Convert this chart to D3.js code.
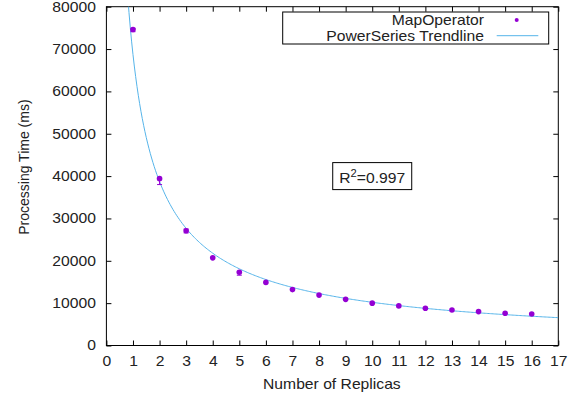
<!DOCTYPE html>
<html>
<head>
<meta charset="utf-8">
<script src="https://cdn.jsdelivr.net/npm/d3@7"></script>
<style>
  body { margin: 0; background: #fff; }
  svg { display: block; font-family: "Liberation Sans", Arial, sans-serif; }
</style>
</head>
<body>
<div id="chart"></div>
<script>
// Datos
const replicas = [1, 2, 3, 4, 5, 6, 7, 8, 9, 10, 11, 12, 13, 14, 15, 16];
const procTime = [74600, 39400, 27100, 20700, 17300, 14900, 13200, 11900, 10900, 10000, 9350, 8800, 8400, 8000, 7600, 7450];
const errLow = [500, 1400, 500, 0, 700, 0, 0, 0, 0, 0, 0, 0, 0, 0, 0, 0];
const errHigh = [300, 0, 400, 0, 200, 0, 0, 0, 0, 0, 0, 0, 0, 0, 0, 0];
const xTicks = [0, 1, 2, 3, 4, 5, 6, 7, 8, 9, 10, 11, 12, 13, 14, 15, 16, 17];
const yTicks = [0, 10000, 20000, 30000, 40000, 50000, 60000, 70000, 80000];
const r2Label = { x: 10, y: 40000, text: "0.997" };

const W = 584, H = 398;
const margin = { top: 6.7, right: 25.7, bottom: 52.5, left: 106.4 };
const width = W - margin.left - margin.right;
const height = H - margin.top - margin.bottom;
const sx = 1.12; // el texto original está algo estirado en horizontal
const pointColor = "#9400d3", lineColor = "#56b4e9";

const svg = d3.select("#chart").append("svg")
    .attr("width", W).attr("height", H);

svg.append("defs").append("clipPath").attr("id", "clip")
    .append("rect").attr("width", width).attr("height", height);

const g = svg.append("g").attr("transform", `translate(${margin.left},${margin.top})`);

const x = d3.scaleLinear().domain([0, 17]).range([0, width]);
const y = d3.scaleLinear().domain([0, 80000]).range([height, 0]);

// Ajuste de potencia y = a*x^b (regresión log-log)
const lx = replicas.map(Math.log), ly = procTime.map(Math.log);
const mx = d3.mean(lx), my = d3.mean(ly);
const b = d3.sum(lx, (v, i) => (v - mx) * (ly[i] - my)) / d3.sum(lx, v => (v - mx) * (v - mx));
const a = Math.exp(my - b * mx);

// Ejes (ticks hacia dentro, espejados)
const tick = 5;
const xAxis = g.append("g").attr("transform", `translate(0,${height})`)
    .call(d3.axisBottom(x).tickValues(xTicks).tickSize(-tick).tickPadding(11).tickFormat(d3.format("d")));
const yAxis = g.append("g")
    .call(d3.axisLeft(y).tickValues(yTicks).tickSize(-tick).tickPadding(10).tickFormat(d3.format("d")));
g.append("g").call(d3.axisTop(x).tickValues(xTicks).tickSize(-tick).tickFormat(""));
g.append("g").attr("transform", `translate(${width},0)`)
    .call(d3.axisRight(y).tickValues(yTicks).tickSize(-tick).tickFormat(""));
g.selectAll(".domain").remove();
g.selectAll(".tick line").attr("stroke", "#000");

xAxis.selectAll("text").attr("transform", `scale(${sx},1)`)
    .style("font-size", "14px").attr("fill", "#222");
yAxis.selectAll("text").attr("transform", `scale(${sx},1)`)
    .attr("x", -10.5 / sx).style("font-size", "14px").attr("fill", "#222");

g.append("rect").attr("width", width).attr("height", height)
    .attr("fill", "none").attr("stroke", "#000").attr("stroke-width", 1);

// Etiquetas de ejes
g.append("text")
    .attr("transform", `translate(${width / 2 - 0.5},${height + 43.5}) scale(${sx},1)`)
    .attr("text-anchor", "middle").style("font-size", "14px").attr("fill", "#222")
    .text("Number of Replicas");
g.append("text")
    .attr("transform", `translate(${-77},${height / 2 - 9}) rotate(-90)`)
    .attr("text-anchor", "middle").style("font-size", "14px").attr("fill", "#222")
    .text("Processing Time (ms)");

// Línea de tendencia
const xs = d3.range(0.4, 17.01, 0.05);
g.append("path")
    .attr("clip-path", "url(#clip)")
    .attr("d", d3.line().x(d => x(d)).y(d => y(a * Math.pow(d, b)))(xs))
    .attr("fill", "none").attr("stroke", lineColor).attr("stroke-width", 1);

// Barras de error
const pts = replicas.map((r, i) => ({ r, v: procTime[i], lo: procTime[i] - errLow[i], hi: procTime[i] + errHigh[i] }));
const eb = g.append("g").attr("stroke", pointColor).attr("stroke-width", 1);
pts.filter(d => d.hi > d.lo + 1).forEach(d => {
    eb.append("line").attr("x1", x(d.r)).attr("x2", x(d.r)).attr("y1", y(d.lo)).attr("y2", y(d.hi));
    [d.lo, d.hi].forEach(v => eb.append("line")
        .attr("x1", x(d.r) - 2.5).attr("x2", x(d.r) + 2.5).attr("y1", y(v)).attr("y2", y(v)));
});

// Puntos
g.selectAll(".dot").data(pts).enter().append("circle")
    .attr("cx", d => x(d.r)).attr("cy", d => y(d.v)).attr("r", 2.8)
    .attr("fill", pointColor);

// Leyenda
const leg = svg.append("g");
leg.append("rect").attr("x", 282.7).attr("y", 12).attr("width", 266).attr("height", 32)
    .attr("fill", "#fff").attr("stroke", "#000");
[["MapOperator", 25], ["PowerSeries Trendline", 40.5]].forEach(([t, yy]) => {
    leg.append("text").attr("transform", `translate(484,${yy}) scale(${sx},1)`)
        .attr("text-anchor", "end").style("font-size", "14px").attr("fill", "#222").text(t);
});
leg.append("circle").attr("cx", 516.7).attr("cy", 20).attr("r", 2).attr("fill", pointColor);
leg.append("line").attr("x1", 496.7).attr("x2", 538.3).attr("y1", 35.7).attr("y2", 35.7)
    .attr("stroke", lineColor).attr("stroke-width", 1);

// Etiqueta R²
const rg = g.append("g").attr("transform", `translate(${x(r2Label.x)},${y(r2Label.y)})`);
rg.append("rect").attr("x", -39.5).attr("y", -13.5).attr("width", 79).attr("height", 27)
    .attr("fill", "#fff").attr("stroke", "#000");
const rt = rg.append("text").attr("transform", `translate(0,7) scale(${sx},1)`)
    .attr("text-anchor", "middle").style("font-size", "14px").attr("fill", "#222");
rt.append("tspan").text("R");
rt.append("tspan").attr("dy", -6).style("font-size", "10px").text("2");
rt.append("tspan").attr("dy", 6).text("=" + r2Label.text);
</script>
</body>
</html>
